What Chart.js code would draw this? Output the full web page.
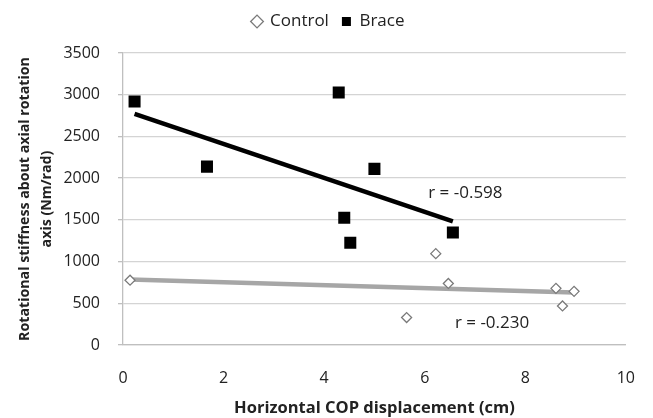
<!DOCTYPE html>
<html><head><meta charset="utf-8">
<script src="https://cdn.jsdelivr.net/npm/chart.js@4/dist/chart.umd.min.js"></script>
<style>html,body{margin:0;padding:0;background:#fff}#wrap{width:653px;height:418px}</style>
</head><body><div id="wrap"><canvas id="c" width="653" height="418"></canvas></div>
<script>
const controlX = [0.14, 6.22, 6.47, 5.64, 8.61, 8.97, 8.74];
const controlY = [777, 1095, 738, 329, 679, 643, 468];
const braceX = [0.23, 1.67, 4.29, 5.00, 4.40, 4.52, 6.56];
const braceY = [2920, 2138, 3027, 2111, 1524, 1226, 1349];
const seriesNames = ['Control', 'Brace'];
const rLabels = ['r = -0.230', 'r = -0.598'];
const rLabelAt = [[6.60, 265], [6.07, 1825]];
const xTicks = [0, 2, 4, 6, 8, 10];
const yTicks = [0, 500, 1000, 1500, 2000, 2500, 3000, 3500];

function pts(xs, ys){ return xs.map((x,i)=>({x:x, y:ys[i]})); }
function fit(xs, ys){
  const n = xs.length, mx = xs.reduce((a,b)=>a+b)/n, my = ys.reduce((a,b)=>a+b)/n;
  let sxy=0, sxx=0;
  for(let i=0;i<n;i++){ sxy+=(xs[i]-mx)*(ys[i]-my); sxx+=(xs[i]-mx)**2; }
  const b = sxy/sxx, a = my - b*mx;
  const x0 = Math.min(...xs), x1 = Math.max(...xs);
  return [{x:x0, y:a+b*x0}, {x:x1, y:a+b*x1}];
}
const FONT = "'Open Sans', 'Noto Sans', sans-serif";
const textPlugin = {
  id:'rtext',
  beforeLayout(chart){
    const l = chart.legend;
    if(l && !l._patched){
      const f = l.fit.bind(l);
      l.fit = function(){ f(); this.height = 53; };
      l._patched = true;
    }
  },
  afterLayout(chart){
    const l = chart.legend;
    if(l){ l.left += 14; l.right += 14; if(l.adjustHitBoxes) l.adjustHitBoxes(); }
  },
  afterDatasetsDraw(chart){
    const {ctx, scales:{x, y}} = chart;
    ctx.save();
    ctx.font = "17px " + FONT;
    ctx.fillStyle = '#222';
    ctx.textBaseline = 'middle';
    ctx.textAlign = 'left';
    rLabels.forEach((t,i)=>{
      ctx.fillText(t, x.getPixelForValue(rLabelAt[i][0]), y.getPixelForValue(rLabelAt[i][1]));
    });
    ctx.restore();
  }
};
new Chart(document.getElementById('c'), {
  type:'scatter',
  data:{datasets:[
    {label:seriesNames[0], data:pts(controlX, controlY), pointStyle:'rectRot', pointRadius:5, pointHoverRadius:5,
     backgroundColor:'#ffffff', borderColor:'#7a7a7a', borderWidth:1.3, order:1},
    {label:seriesNames[1], data:pts(braceX, braceY), pointStyle:'rect', pointRadius:8.5, pointHoverRadius:8.5,
     backgroundColor:'#000000', borderColor:'#000000', borderWidth:0, order:1},
    {label:'trend0', data:fit(controlX, controlY), showLine:true, borderColor:'#a6a6a6', borderWidth:4.5, pointRadius:0, order:2},
    {label:'trend1', data:fit(braceX, braceY), showLine:true, borderColor:'#000000', borderWidth:4.5, pointRadius:0, order:0}
  ]},
  options:{
    responsive:false, animation:false,
    layout:{padding:{left:0, right:24, top:0, bottom:0}},
    plugins:{
      legend:{position:'top', labels:{filter:(it)=>it.datasetIndex<2, usePointStyle:true, boxWidth:9, boxHeight:9,
        font:{family:FONT, size:17}, color:'#222', padding:13}},
      tooltip:{enabled:false}
    },
    scales:{
      x:{type:'linear', min:0, max:10, afterBuildTicks:(s)=>{s.ticks = xTicks.map(v=>({value:v}));},
         grid:{display:false, drawTicks:true, tickLength:6, tickColor:'#bfbfbf'},
         border:{color:'#bfbfbf', width:1.3},
         ticks:{font:{family:FONT, size:16}, color:'#222', padding:18, callback:(v)=>String(v)},
         title:{display:true, text:'Horizontal COP displacement (cm)', font:{family:FONT, size:16.5, weight:'bold'}, color:'#222', padding:{top:0, bottom:0}},
         afterFit:(s)=>{s.height = 73;}
      },
      y:{type:'linear', min:0, max:3500, afterBuildTicks:(s)=>{s.ticks = yTicks.map(v=>({value:v}));},
         grid:{color:'#d4d4d4', lineWidth:1.3, drawTicks:true, tickLength:5, tickColor:'#bfbfbf'},
         border:{color:'#bfbfbf', width:1.3},
         ticks:{font:{family:FONT, size:16}, color:'#222', padding:18, callback:(v)=>String(v)},
         title:{display:true, text:['Rotational stiffness about axial rotation','axis (Nm/rad)'], font:{family:FONT, size:14.2, weight:'bold', lineHeight:1.54}, color:'#222', padding:{top:14, bottom:0}},
         afterFit:(s)=>{s.width = 123;}
      }
    }
  },
  plugins:[textPlugin]
});
</script></body></html>
